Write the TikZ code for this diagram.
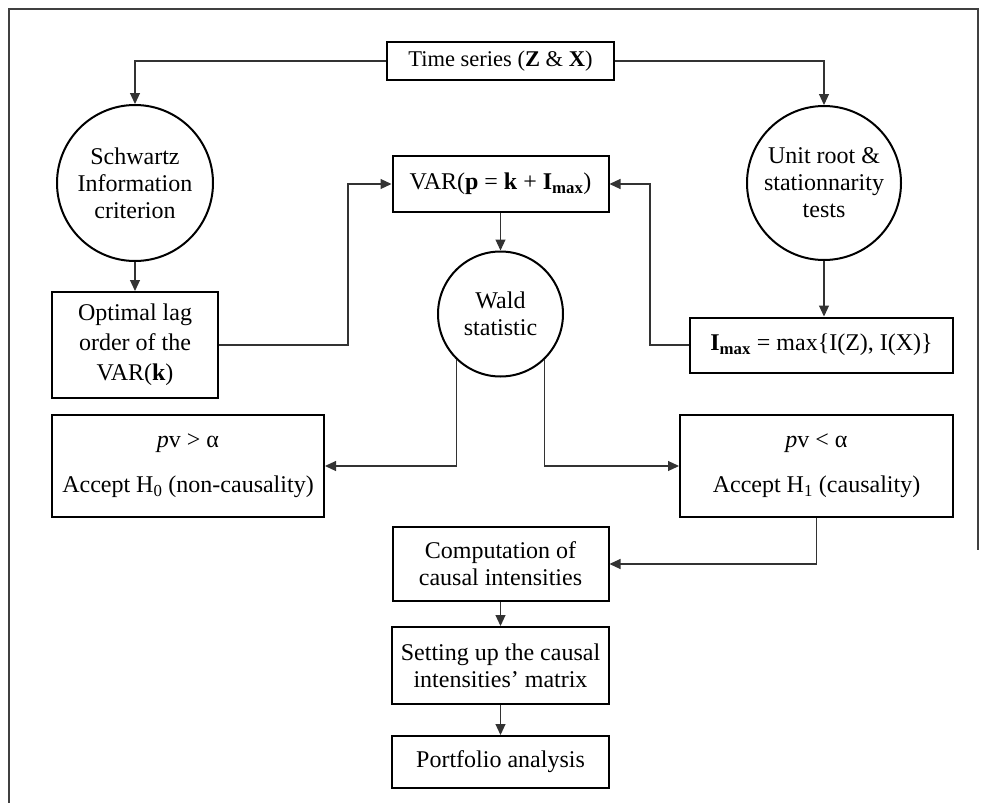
\documentclass[tikz,border=0pt]{standalone}
\usepackage{fontspec}
\setmainfont{Liberation Serif}
\usetikzlibrary{arrows.meta,calc}
\tikzset{
  box/.style={draw=black, line width=2pt, fill=white, inner sep=0pt, align=center, font=\fontsize{24}{27}\selectfont},
  circ/.style={draw=black, line width=2pt, circle, fill=white, inner sep=0pt, align=center, font=\fontsize{24}{27}\selectfont},
  arr/.style={draw=black!80, line width=1.1pt, -{Triangle[length=11pt,width=10pt]}},
  frame/.style={draw=black!75, line width=1.6pt}
}
\begin{document}
\begin{tikzpicture}[x=1pt,y=-1pt]
\useasboundingbox (0,0) rectangle (986,803);
% outer frame
\coordinate (f1) at (9,803);
\coordinate (f2) at (9,9);
\coordinate (f3) at (978,9);
\coordinate (f4) at (978,550);
\draw[frame] (f1) -- (f2) -- (f3) -- (f4);

\node[box, minimum width=227pt, minimum height=38pt, font=\fontsize{22.5}{27}\selectfont] (ts) at (500.5,61) {Time series (\textbf{Z} \& \textbf{X})};
\node[circ, minimum size=156pt] (sic) at (135,183) {Schwartz\\Information\\criterion};
\node[circ, minimum size=154pt] (urt) at (824,183) {Unit root \&\\stationnarity\\tests};
\node[box, minimum width=216pt, minimum height=56pt] (var) at (500.5,184) {VAR(\textbf{p} = \textbf{k} + \textbf{I}\textsubscript{\textbf{max}})};
\node[box, minimum width=166pt, minimum height=106pt, font=\fontsize{24}{30}\selectfont] (opt) at (135,345) {Optimal lag\\order of the\\VAR(\textbf{k})};
\node[circ, minimum size=125pt] (wald) at (500.5,314) {Wald\\statistic};
\node[box, minimum width=263pt, minimum height=55pt] (imax) at (821.5,345) {\textbf{I}\textsubscript{\textbf{max}} = max\{I(Z), I(X)\}};
\node[box, minimum width=272pt, minimum height=102pt] (pvg) at (188,466) {\textit{p}v {>} α\\[18pt]Accept H\textsubscript{0} (non-causality)};
\node[box, minimum width=273pt, minimum height=102pt] (pvl) at (816.5,466) {\textit{p}v {<} α\\[18pt]Accept H\textsubscript{1} (causality)};
\node[box, minimum width=216pt, minimum height=74pt] (comp) at (500.5,564) {Computation of\\causal intensities};
\node[box, minimum width=217pt, minimum height=77pt] (setb) at (500.5,665.5) {Setting up the causal\\intensities’ matrix};
\node[box, minimum width=217pt, minimum height=52pt] (port) at (500.5,762) {Portfolio analysis};

\coordinate (k1) at (348,345);
\coordinate (k2) at (650,345);

\draw[arr] (ts.west) -| (sic.north);
\draw[arr] (ts.east) -| (urt.north);
\draw[arr] (sic.south) -- (opt.north);
\draw[arr] (opt.east) -- (k1) |- (var.west);
\draw[arr] (imax.west) -- (k2) |- (var.east);
\draw[arr] (var.south) -- (wald.north);
\draw[arr] (urt.south) -- (urt.south |- imax.north);
\draw[arr] (wald.226.5) |- (pvg.east);
\draw[arr] (wald.314.7) |- (pvl.west);
\draw[arr] (pvl.south) |- (comp.east);
\draw[arr] (comp.south) -- (setb.north);
\draw[arr] (setb.south) -- (port.north);
\end{tikzpicture}
\end{document}
